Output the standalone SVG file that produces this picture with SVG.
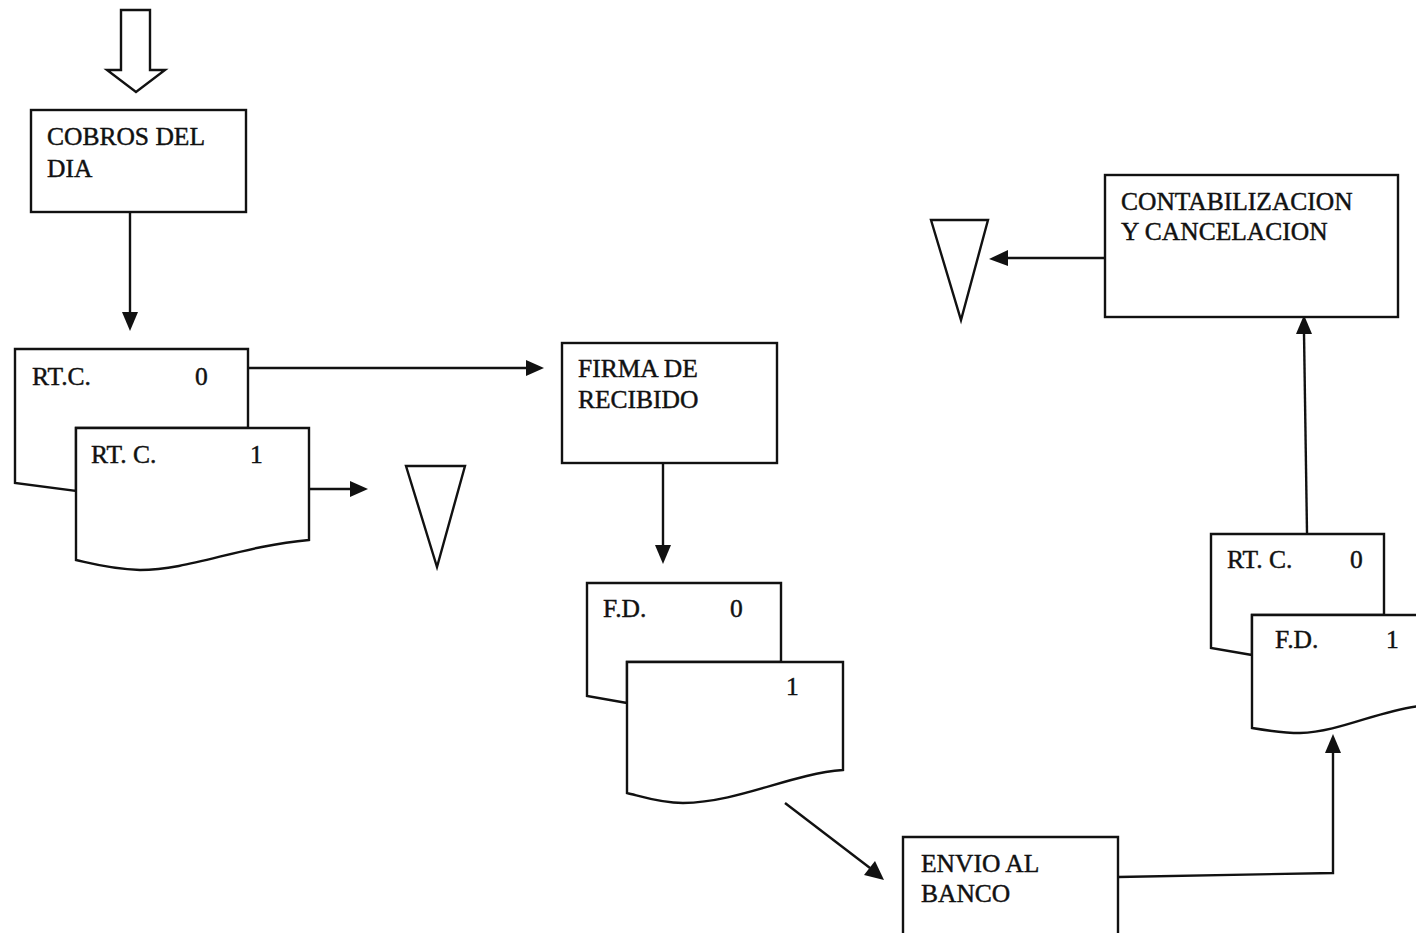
<svg xmlns="http://www.w3.org/2000/svg" width="1416" height="933" viewBox="0 0 1416 933">
<style>
.s{fill:#fff;stroke:#111;stroke-width:2.4;stroke-linejoin:miter}
.c{fill:none;stroke:#111;stroke-width:2.4}
.t{font-family:"Liberation Serif","Times New Roman",serif;font-size:25.5px;fill:#111;stroke:#111;stroke-width:0.45}
</style>
<rect width="1416" height="933" fill="#fff"/>
<g id="connectors">
<path class="c" d="M130,212 V312"/>
<path d="M122,312 L138,312 L130,331 z" fill="#111"/>
<path class="c" d="M248,368 H526"/>
<path d="M526,360 L526,376 L544,368 z" fill="#111"/>
<path class="c" d="M309,489 H350"/>
<path d="M350,481 L350,497 L368,489 z" fill="#111"/>
<path class="c" d="M663,463 V545"/>
<path d="M655,545 L671,545 L663,564 z" fill="#111"/>
<path class="c" d="M785,803 L870,868"/>
<path d="M864,875 L875,861 L884,880 z" fill="#111"/>
<path class="c" d="M1118,877 L1333,873 V752"/>
<path d="M1325,753 L1341,753 L1333,734 z" fill="#111"/>
<path class="c" d="M1307,533 L1304,333"/>
<path d="M1296,334 L1312,334 L1304,315 z" fill="#111"/>
<path class="c" d="M1105,258 H1008"/>
<path d="M1008,250 L1008,266 L989,259 z" fill="#111"/>
</g>
<g id="start-arrow">
<polygon class="s" points="121,10 150,10 150,70 165,70 136,92 107,70 121,70"/>
</g>
<g id="cobros">
<rect class="s" x="31" y="110" width="215" height="102"/>
<text class="t" x="47" y="145">COBROS DEL</text>
<text class="t" x="47" y="177">DIA</text>
</g>
<g id="rtc-0">
<path class="s" d="M15,349 H248 V428 H76 V491 L15,483 Z"/>
<text class="t" x="32" y="385">RT.C.</text>
<text class="t" x="195" y="385">0</text>
</g>
<g id="rtc-1">
<path class="s" d="M76,428 H309 V540 C240,546 190,570 140,570 C110,569 90,563 76,560 Z"/>
<text class="t" x="91" y="463">RT. C.</text>
<text class="t" x="250" y="463">1</text>
</g>
<g id="file-1">
<polygon class="s" points="406,466 465,466 437,567"/>
</g>
<g id="firma">
<rect class="s" x="562" y="343" width="215" height="120"/>
<text class="t" x="578" y="377">FIRMA DE</text>
<text class="t" x="578" y="408">RECIBIDO</text>
</g>
<g id="fd-0">
<path class="s" d="M587,583 H781 V662 H627 V703 L587,696 Z"/>
<text class="t" x="603" y="617">F.D.</text>
<text class="t" x="730" y="617">0</text>
</g>
<g id="fd-1">
<path class="s" d="M627,662 H843 V770 C790,774 740,802 683,803 C660,803 640,796 627,793 Z"/>
<text class="t" x="786" y="695">1</text>
</g>
<g id="envio">
<path class="s" d="M903,940 V837 H1118 V940"/>
<text class="t" x="921" y="872">ENVIO AL</text>
<text class="t" x="921" y="902">BANCO</text>
</g>
<g id="rtc-0b">
<path class="s" d="M1211,534 H1384 V615 H1252 V655 L1211,648 Z"/>
<text class="t" x="1227" y="568">RT. C.</text>
<text class="t" x="1350" y="568">0</text>
</g>
<g id="fd-1b">
<path class="s" d="M1420,615 H1252 V728 C1270,731 1285,733 1300,733 C1340,732 1380,710 1420,706"/>
<text class="t" x="1275" y="648">F.D.</text>
<text class="t" x="1386" y="648">1</text>
</g>
<g id="contab">
<rect class="s" x="1105" y="175" width="293" height="142"/>
<text class="t" x="1121" y="210">CONTABILIZACION</text>
<text class="t" x="1121" y="240">Y CANCELACION</text>
</g>
<g id="file-2">
<polygon class="s" points="931,220 988,220 961,320"/>
</g>
</svg>
